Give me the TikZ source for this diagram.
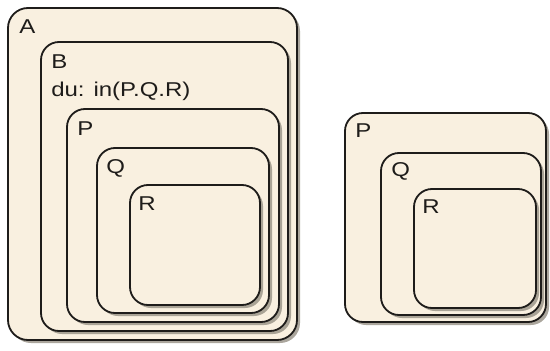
\documentclass[tikz,border=0pt]{standalone}
\usepackage{fontspec}
\newfontfamily\statefont[FakeStretch=1.2]{Liberation Sans}
\usetikzlibrary{positioning,shadows}
\definecolor{statefill}{RGB}{249,240,224}
\definecolor{stateline}{RGB}{30,28,26}
\definecolor{stateshadow}{RGB}{150,144,132}

\begin{document}
\begin{tikzpicture}[x=1pt,y=-1pt,
  state/.style={draw=stateline,fill=statefill,line width=1.8pt,rounded corners=18pt,inner sep=0pt,
    drop shadow={shadow xshift=3pt,shadow yshift=-3pt,fill=stateshadow,opacity=0.8}},
  lab/.style={inner sep=0pt,font=\statefont\fontsize{20}{24}\selectfont,text=stateline}]
\useasboundingbox (0,0) rectangle (550,351);
% left chart: A contains B, B contains P.Q.R
\node (stA) [state,minimum width=289pt,minimum height=332pt,rounded corners=20pt] at (152.5,174) {};
\node (lA) [lab,below right=12pt and 12pt of stA.north west] {A};
\node (stB) [state,minimum width=247pt,minimum height=289pt] at (164.5,186.5) {};
\node (lB) [lab,below right=13pt and 11pt of stB.north west] {B};
\node (du) [lab,below right=41pt and 11pt of stB.north west] {du: in(P.Q.R)};
\node (stP) [state,minimum width=212pt,minimum height=213pt] at (173,215.5) {};
\node (lP) [lab,below right=13pt and 11pt of stP.north west] {P};
\node (stQ) [state,minimum width=172pt,minimum height=165pt] at (183,230.5) {};
\node (lQ) [lab,below right=12pt and 10pt of stQ.north west] {Q};
\node (stR) [state,minimum width=130pt,minimum height=120pt] at (195,245) {};
\node (lR) [lab,below right=12pt and 9pt of stR.north west] {R};
% right chart
\node (rP) [state,minimum width=201pt,minimum height=209pt] at (445.5,217.5) {};
\node (lrP) [lab,below right=11pt and 11pt of rP.north west] {P};
\node (rQ) [state,minimum width=160pt,minimum height=162pt] at (461,234) {};
\node (lrQ) [lab,below right=10pt and 11pt of rQ.north west] {Q};
\node (rR) [state,minimum width=122pt,minimum height=119pt] at (475,248.5) {};
\node (lrR) [lab,below right=11pt and 9pt of rR.north west] {R};
\end{tikzpicture}
\end{document}
